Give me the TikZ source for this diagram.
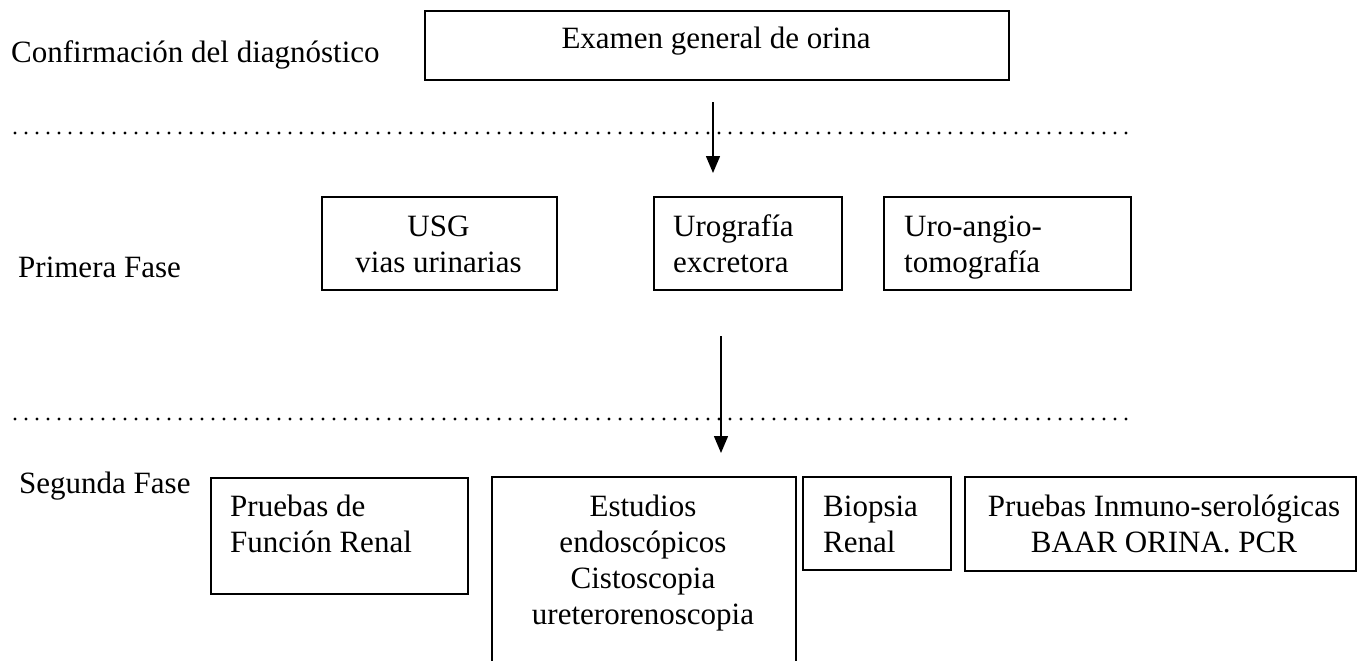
\documentclass[tikz,border=0pt]{standalone}
\usepackage{fontspec}
\setmainfont{Liberation Serif}
\usetikzlibrary{arrows.meta}
\begin{document}
\begin{tikzpicture}[x=1pt,y=-1pt,
  box/.style={draw, line width=1.7pt, inner sep=0pt, anchor=north west},
  txt/.style={inner sep=0pt, font=\fontsize{31}{36}\selectfont},
  dotline/.style={line width=3.4pt, line cap=round, dash pattern=on 0pt off 11pt},
  arr/.style={line width=1.5pt, -{Triangle[length=17pt,width=14pt]}}]
\useasboundingbox (0,0) rectangle (1358,661);

% phase labels
\node[txt, anchor=base west] (lconf) at (11,63) {Confirmación del diagnóstico};
\node[txt, anchor=base west] (lprim) at (18,277) {Primera Fase};
\node[txt, anchor=base west] (lseg)  at (19,493) {Segunda Fase};

% separators
\coordinate (d1a) at (15,133); \coordinate (d1b) at (1130,133);
\coordinate (d2a) at (15,419); \coordinate (d2b) at (1130,419);
\draw[dotline] (d1a) -- (d1b);
\draw[dotline] (d2a) -- (d2b);

% top box
\node[box, minimum width=584pt, minimum height=69pt] (exam) at (424,10) {};
\node[txt, anchor=base] (texam) at (716,49) {Examen general de orina};

% first phase
\node[box, minimum width=235pt, minimum height=93pt] (usg) at (321,196) {};
\node[txt, anchor=base] (tusg1) at (438.5,236) {USG};
\node[txt, anchor=base] (tusg2) at (438.5,272) {vias urinarias};

\node[box, minimum width=188pt, minimum height=93pt] (uro) at (653,196) {};
\node[txt, anchor=base west] (turo1) at (673,236) {Urografía};
\node[txt, anchor=base west] (turo2) at (673,272) {excretora};

\node[box, minimum width=247pt, minimum height=93pt] (angio) at (883,196) {};
\node[txt, anchor=base west] (tang1) at (904,236) {Uro-angio-};
\node[txt, anchor=base west] (tang2) at (904,272) {tomografía};

% second phase
\node[box, minimum width=257pt, minimum height=116pt] (func) at (210,477) {};
\node[txt, anchor=base west] (tfun1) at (230,516) {Pruebas de};
\node[txt, anchor=base west] (tfun2) at (230,552) {Función Renal};

\node[box, minimum width=304pt, minimum height=240pt] (endo) at (491,476) {};
\node[txt, anchor=base] (tend1) at (643,516) {Estudios};
\node[txt, anchor=base] (tend2) at (643,552) {endoscópicos};
\node[txt, anchor=base] (tend3) at (643,588) {Cistoscopia};
\node[txt, anchor=base] (tend4) at (643,624) {ureterorenoscopia};

\node[box, minimum width=148pt, minimum height=93pt] (bio) at (802,476) {};
\node[txt, anchor=base west] (tbio1) at (823,516) {Biopsia};
\node[txt, anchor=base west] (tbio2) at (823,552) {Renal};

\node[box, minimum width=391pt, minimum height=94pt] (inm) at (964,476) {};
\node[txt, anchor=base] (tinm1) at (1164,516) {Pruebas Inmuno-serológicas};
\node[txt, anchor=base] (tinm2) at (1164,552) {BAAR ORINA. PCR};

% arrows
\coordinate (a1s) at (713,102); \coordinate (a1e) at (713,173);
\coordinate (a2s) at (721,336); \coordinate (a2e) at (721,453);
\draw[arr] (a1s) -- (a1e);
\draw[arr] (a2s) -- (a2e);
\end{tikzpicture}
\end{document}
